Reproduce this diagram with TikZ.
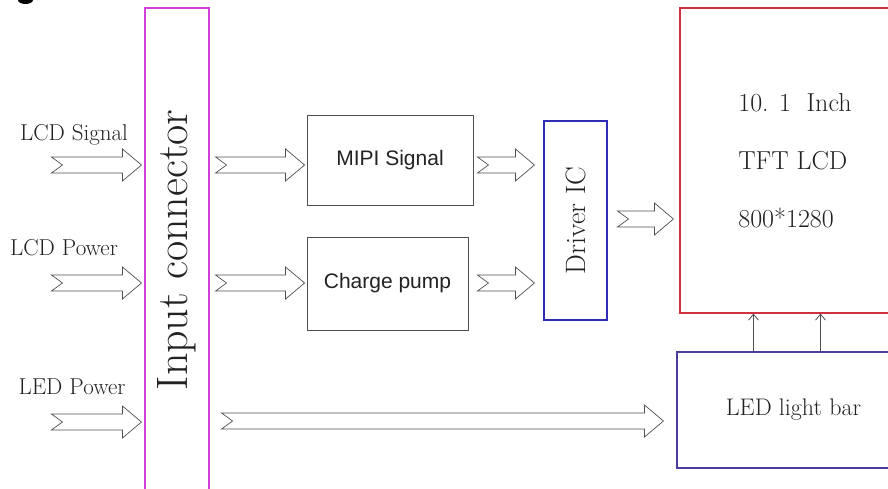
\documentclass[tikz,border=0pt]{standalone}
\usepackage{fontspec}
\usepackage{tikz}
\usetikzlibrary{arrows.meta,positioning,calc}
\newfontfamily\arialfont{Liberation Sans}
\definecolor{LineGray}{HTML}{505050}
\definecolor{TextGray}{HTML}{222222}
\definecolor{ConnMagenta}{HTML}{D040D8}
\definecolor{DriverBlue}{HTML}{2E2EB0}
\definecolor{PanelRed}{HTML}{D03040}
\definecolor{BarPurple}{HTML}{4E3C9C}
\newcommand{\fatarrow}[2]{%
  \draw[fat] let \p1=#1, \p2=#2 in
    (\x1,\y1+8pt) -- (\x2-19pt,\y1+8pt) -- (\x2-19pt,\y1+16pt) -- (\x2,\y1)
    -- (\x2-19pt,\y1-16pt) -- (\x2-19pt,\y1-8pt) -- (\x1,\y1-8pt) -- (\x1+11pt,\y1) -- cycle;}

\begin{document}
\begin{tikzpicture}[
  x=1pt,y=-1pt,
  box/.style={draw=LineGray,line width=0.9pt,inner sep=0pt,text=TextGray},
  cbox/.style={box,line width=1.1pt},
  fat/.style={draw=LineGray,line width=0.7pt,fill=white,line join=miter},
  uparr/.style={draw=LineGray,line width=0.8pt,-{Straight Barb[length=6pt,width=10pt]}},
  lbl/.style={text=TextGray,font=\fontsize{23}{23}\selectfont,inner sep=0pt}
]
\useasboundingbox (0,0) rectangle (888,489);
\clip (0,0) rectangle (888,489);
\fill[black] (25.5,0) ellipse (7.5pt and 4pt);
% rows
\coordinate (r1) at (0,165);
\coordinate (r2) at (0,283);
\coordinate (r3) at (0,422);
% boxes (rotated ones: north = left side, south = right side)
\node[cbox,draw=ConnMagenta,rotate=90,minimum width=484pt,minimum height=64pt,
  font=\fontsize{44}{44}\selectfont] (inconn) at (177,250) {Input connector};
\node[box,minimum width=166pt,minimum height=90pt,font=\arialfont\fontsize{21}{21}\selectfont] (mipi) at (390,160) {MIPI Signal};
\node[box,minimum width=161pt,minimum height=93pt,font=\arialfont\fontsize{21}{21}\selectfont] (charge) at (387.5,283.5) {Charge pump};
\node[cbox,draw=DriverBlue,rotate=90,minimum width=199pt,minimum height=63pt,
  font=\fontsize{28}{28}\selectfont] (driver) at (575.5,220.5) {Driver IC};
\node[cbox,draw=PanelRed,minimum width=230pt,minimum height=305pt,align=left,
  font=\fontsize{26}{58}\selectfont] (tft) at (795,160.5) {10. 1\hspace{0.6em}Inch\\TFT LCD\\800*1280};
\node[cbox,draw=BarPurple,minimum width=233pt,minimum height=116pt,
  font=\fontsize{24}{24}\selectfont] (ledbar) at (793.5,410) {LED light bar};
% input labels
\node[lbl] (lcdsig) at (74,135) {LCD Signal};
\node[lbl] (lcdpow) at (64,248) {LCD Power};
\node[lbl] (ledpow) at (72,387) {LED Power};
% block arrows
\fatarrow{($(inconn.north |- r1)+(-93,0)$)}{($(inconn.north |- r1)+(-3,0)$)}
\fatarrow{($(inconn.north |- r2)+(-93,0)$)}{($(inconn.north |- r2)+(-3,0)$)}
\fatarrow{($(inconn.north |- r3)+(-93,0)$)}{($(inconn.north |- r3)+(-3,0)$)}
\fatarrow{($(inconn.south |- r1)+(6,0)$)}{($(mipi.west |- r1)+(-2,0)$)}
\fatarrow{($(inconn.south |- r2)+(6,0)$)}{($(charge.west |- r2)+(-2,0)$)}
\fatarrow{($(mipi.east |- r1)+(4,0)$)}{($(driver.north |- r1)+(-9,0)$)}
\fatarrow{($(charge.east |- r2)+(9,0)$)}{($(driver.north |- r2)+(-9,0)$)}
\fatarrow{($(driver.south)+(10,-1.5)$)}{($(tft.west |- driver.south)+(-6,-1.5)$)}
\fatarrow{($(inconn.south |- r3)+(12,-1)$)}{($(ledbar.west |- r3)+(-13,-1)$)}
% backlight
\draw[uparr] ([xshift=77pt]ledbar.north west) -- ([xshift=77pt]ledbar.north west |- tft.south);
\draw[uparr] ([xshift=144pt]ledbar.north west) -- ([xshift=144pt]ledbar.north west |- tft.south);
\end{tikzpicture}
\end{document}
